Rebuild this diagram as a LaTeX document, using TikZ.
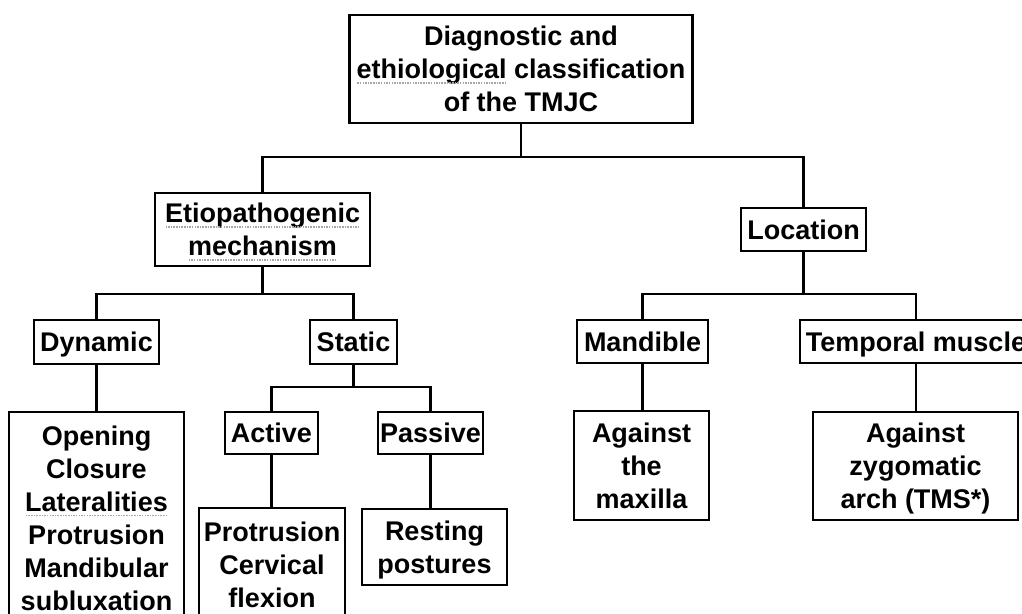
\documentclass[tikz,border=0pt]{standalone}
\usepackage{fontspec}
\setmainfont{Liberation Sans}
\newcommand\spl[1]{\leavevmode\setbox0\hbox{#1}\rlap{\usebox0}\raisebox{-5pt}{\hbox to \wd0{\color{gray!70}\xleaders\hbox to 2.6pt{\hss\rule{1.5pt}{1.5pt}\hss}\hfill}}}
\tikzset{
  bx/.style={draw=black, line width=2.3pt, inner sep=0pt, align=center,
    text depth=0pt,
    font=\fontsize{27}{33}\selectfont\bfseries, text=black},
  cn/.style={draw=black, line width=2.3pt}
}
\begin{document}
\begin{tikzpicture}[x=1pt,y=-1pt]
\useasboundingbox (0,0) rectangle (1022,613);
\fill[white] (0,0) rectangle (1022,613);
% nodes
\node[bx, minimum width=343pt, minimum height=108pt] (root) at (521,69) {Diagnostic and\\ \spl{ethiological} classification\\ of the TMJC};
\node[bx, minimum width=215pt, minimum height=73pt] (etio) at (262.5,229.5) {\spl{Etiopathogenic}\\ \spl{mechanism}};
\node[bx, minimum width=125pt, minimum height=43pt] (loc) at (803.5,229.5) {Location};
\node[bx, minimum width=125pt, minimum height=44pt] (dyn) at (96.5,342) {Dynamic};
\node[bx, minimum width=87pt, minimum height=44pt] (stat) at (353.5,342) {Static};
\node[bx, minimum width=131pt, minimum height=43pt] (mand) at (642.5,341.5) {Mandible};
\node[bx, minimum width=232pt, minimum height=43pt] (temp) at (916,341.5) {Temporal muscle};
\node[bx, minimum width=175pt, minimum height=212pt] (dynl) at (96.5,518) {Opening\\ Closure\\ \spl{Lateralities}\\ Protrusion\\ Mandibular\\ subluxation};
\node[bx, minimum width=93pt, minimum height=42pt] (act) at (271.5,433) {Active};
\node[bx, minimum width=105pt, minimum height=42pt] (pas) at (430.5,433) {Passive};
\node[bx, minimum width=146pt, minimum height=114pt] (prot) at (272,565) {Protrusion\\ Cervical\\ flexion};
\node[bx, minimum width=145pt, minimum height=76pt] (rest) at (434.5,547) {Resting\\ postures};
\node[bx, minimum width=135pt, minimum height=109pt] (maxi) at (641.5,465.5) {Against\\ the\\ maxilla};
\node[bx, minimum width=205pt, minimum height=108pt] (zyg) at (915.5,466) {Against\\ zygomatic\\ arch (TMS*)};
% bus coordinates
\coordinate (b1) at (0,157);
\coordinate (b2) at (0,294);
\coordinate (b3) at (0,387);
% connectors
\draw[cn] (root.south) -- (root.south |- b1);
\draw[cn] (etio.north) |- (loc.north |- b1) -- (loc.north);
\draw[cn] (etio.south) -- (etio.south |- b2);
\draw[cn] (dyn.north) |- (stat.north |- b2) -- (stat.north);
\draw[cn] (loc.south) -- (loc.south |- b2);
\draw[cn] (mand.north) |- (temp.north |- b2) -- (temp.north);
\draw[cn] (dyn.south) -- (dynl.north);
\draw[cn] (stat.south) -- (stat.south |- b3);
\draw[cn] (act.north) |- (pas.north |- b3) -- (pas.north);
\draw[cn] (act.south) -- (act.south |- prot.north);
\draw[cn] (pas.south) -- (pas.south |- rest.north);
\draw[cn] (mand.south) -- (mand.south |- maxi.north);
\draw[cn] (temp.south) -- (temp.south |- zyg.north);
\end{tikzpicture}
\end{document}
